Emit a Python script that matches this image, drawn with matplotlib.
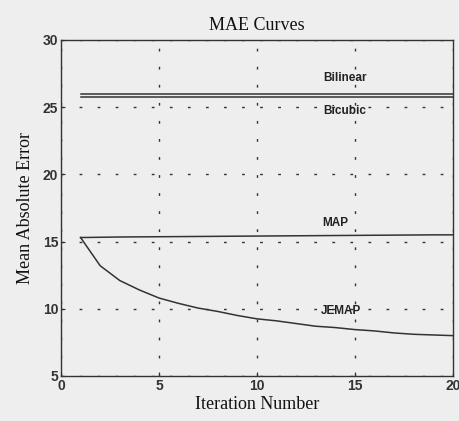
import matplotlib
matplotlib.use("Agg")
import matplotlib.pyplot as plt
import numpy as np

iterations = list(range(1, 21))
bilinear = [26.0] * 20
bicubic = [25.75] * 20
map_vals = [15.3, 15.32, 15.34, 15.35, 15.36, 15.37, 15.38, 15.39, 15.4, 15.41,
            15.42, 15.43, 15.44, 15.45, 15.46, 15.47, 15.48, 15.49, 15.5, 15.5]
jemap = [15.3, 13.2, 12.1, 11.4, 10.8, 10.4, 10.05, 9.8, 9.5, 9.25,
         9.1, 8.9, 8.7, 8.6, 8.45, 8.35, 8.2, 8.1, 8.05, 8.0]
xticks = [0, 5, 10, 15, 20]
yticks = [5, 10, 15, 20, 25, 30]

bg = "#eeeeee"
lc = "#333333"
fig = plt.figure(figsize=(4.6, 4.21), dpi=100, facecolor=bg)
ax = fig.add_axes([0.1326, 0.107, 0.852, 0.798], facecolor=bg)

for y in (bilinear, bicubic, map_vals, jemap):
    ax.plot(iterations, y, color=lc, lw=1.1)

ax.set_xlim(0, 20)
ax.set_ylim(5, 30)
ax.set_xticks(xticks)
ax.set_yticks(yticks)
ax.grid(True, color="#333333", linestyle=(0, (2, 11)), lw=1.0)
ax.tick_params(direction="in", length=3, colors=lc, labelsize=10, pad=2)
for lab in ax.get_xticklabels() + ax.get_yticklabels():
    lab.set_fontfamily("Liberation Sans")
    lab.set_fontweight("bold")
for s in ax.spines.values():
    s.set_color(lc)
    s.set_linewidth(1.0)

kw = dict(fontfamily="Liberation Sans", fontweight="bold", fontsize=8.5,
          color="#222222", ha="center", va="center")
ax.text(14.5, 27.2, "Bilinear", **kw)
ax.text(14.5, 24.7, "Bicubic", **kw)
ax.text(14.0, 16.4, "MAP", **kw)
ax.text(14.3, 9.8, "JEMAP", **kw)

ax.set_title("MAE Curves", fontfamily="Liberation Serif", fontsize=13, pad=7, color="#111111")
ax.set_xlabel("Iteration Number", fontfamily="Liberation Serif", fontsize=13, labelpad=2, color="#111111")
ax.set_ylabel("Mean Absolute Error", fontfamily="Liberation Serif", fontsize=13, labelpad=6, color="#111111")

fig.savefig("out.png", dpi=100, facecolor=bg)
